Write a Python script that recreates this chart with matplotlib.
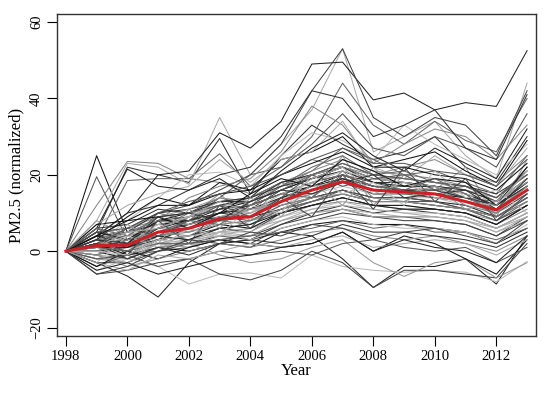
#!/usr/bin/env python3

import numpy as np
import matplotlib
matplotlib.use("Agg")
import matplotlib.pyplot as plt

years = list(range(1998, 2014))

# mean curve (red)
mean_pm = [0, 1.5, 1.6, 5, 6, 8.5, 9, 13, 16, 18.2, 16, 15.5, 15, 13, 10.8, 16]

# individual stations, normalized to 1998
top_lines = [
    [0, 25, 5, 8, 10, 12, 14, 18, 20, 22, 19, 18, 17, 15, 12, 18],
    [0, 19.5, 3, 6, 9, 11, 12, 15, 18, 20, 18, 16, 15, 14, 11, 17],
    [0, 12, 23.5, 23, 19, 18, 15, 20, 24, 22, 20, 22, 24, 20, 18, 25],
    [0, 5, 22, 20, 18, 29.5, 15, 25, 33, 28, 24, 26, 30, 22, 18, 30],
    [0, 8, 23, 22, 17.5, 35, 20, 28, 37, 53, 26, 30, 34, 25, 19, 44],
    [0, 3, 18.5, 19, 19, 25.5, 17, 22, 30, 44, 33, 28, 34, 29, 26, 40],
    [0, 4, 10, 20, 21, 31, 27, 34, 49, 49.5, 39.6, 41.4, 37, 38.9, 37.9, 52.5],
    [0, 2, 8, 14, 20, 20.7, 17, 25, 31, 29, 24, 33, 28, 24, 20, 28],
    [0, 1, 6, 10, 12, 16, 20, 28, 42, 53, 35, 30, 35, 33, 25, 42],
    [0, 2, 5, 3, 9, 15, 8, 18, 14, 25, 12, 20, 16, 22, 9, 24],
    [0, 3, 9, 14, 12, 18, 16, 24, 26, 30, 22, 24, 26, 21, 17, 29],
    [0, -1, 2, 6, 10, 14, 20, 22, 28, 36, 27, 25, 30, 27, 22, 36],
    [0, 2, 6, 8, 14, 17, 19, 26, 38, 33, 23, 28, 32, 30, 24, 33],
    [0, 4, 10, 12, 16, 20, 22, 30, 42, 40, 30, 33, 37, 27, 24, 41],
    [0, 7, 12, 15, 17, 24, 18, 24, 26, 34, 22, 19, 25, 20, 17, 27],
    [0, 0, 3, 5, 7, 10, 12, 17, 21, 27, 24, 20, 21, 18, 15, 25],
    [0, 6, 21.5, 17, 16, 19, 14, 21, 27, 31, 25, 21, 27, 23, 19, 32],
]

mid_lines = [
    [0, 2, 1, 4, 5, 7, 8, 12, 15, 17, 15, 14, 14, 12, 10, 14],
    [0, 4, 3, 8, 9, 12, 11, 16, 19, 22, 19, 18, 17, 16, 13, 19],
    [0, -1, -2, 2, 3, 5, 6, 9, 12, 14, 12, 12, 11, 10, 8, 12],
    [0, 3, 5, 7, 8, 10, 12, 15, 17, 20, 17, 16, 16, 14, 12, 17],
    [0, 1, 0, 3, 4, 6, 5, 10, 13, 15, 13, 13, 12, 11, 9, 13],
    [0, 5, 6, 9, 10, 13, 14, 18, 21, 24, 21, 20, 19, 17, 14, 21],
    [0, -2, -1, 1, 2, 4, 3, 7, 10, 12, 10, 11, 10, 9, 6, 10],
    [0, 2, 4, 6, 7, 9, 10, 14, 16, 19, 16, 15, 15, 13, 11, 15],
    [0, 6, 2, 10, 8, 14, 12, 17, 22, 25, 20, 21, 18, 17, 13, 22],
    [0, 0, 1, 3, 6, 8, 9, 11, 14, 16, 14, 14, 13, 12, 9, 14],
    [0, 3, 2, 7, 5, 11, 10, 15, 18, 21, 18, 17, 16, 15, 12, 18],
    [0, -3, -3, 0, 1, 3, 2, 6, 8, 10, 9, 8, 8, 7, 4, 9],
    [0, 1, 3, 5, 8, 9, 11, 13, 17, 19, 17, 16, 16, 14, 12, 17],
    [0, 7, 8, 12, 12, 15, 16, 20, 23, 26, 22, 22, 20, 19, 16, 23],
    [0, 2, 0, 4, 3, 6, 7, 11, 13, 16, 13, 13, 13, 11, 8, 12],
    [0, -1, 1, 2, 4, 5, 8, 10, 12, 13, 12, 11, 11, 10, 7, 11],
    [0, 4, 5, 10, 11, 13, 13, 18, 20, 23, 20, 19, 18, 17, 15, 20],
    [0, 1, -1, 2, 1, 4, 4, 8, 10, 11, 10, 9, 9, 8, 5, 8],
    [0, 3, 4, 6, 9, 11, 12, 15, 18, 20, 17, 17, 17, 14, 13, 18],
    [0, 5, 3, 8, 7, 10, 11, 14, 17, 19, 16, 16, 15, 14, 11, 16],
    [0, -2, 0, 3, 2, 5, 5, 9, 11, 13, 11, 10, 10, 9, 6, 10],
    [0, 2, 2, 5, 7, 9, 9, 13, 16, 18, 15, 15, 14, 13, 10, 15],
    [0, 8, 4, 9, 11, 14, 13, 17, 20, 22, 19, 19, 18, 16, 14, 20],
    [0, 0, -2, 1, 0, 2, 1, 5, 7, 8, 7, 7, 6, 5, 2, 6],
    [0, 3, 1, 5, 6, 9, 8, 12, 14, 16, 14, 14, 13, 11, 9, 14],
    [0, 1, 2, 6, 5, 8, 10, 13, 15, 18, 16, 15, 15, 13, 10, 16],
    [0, 6, 7, 11, 10, 13, 14, 17, 19, 22, 18, 18, 17, 16, 13, 19],
    [0, -1, -3, 1, 3, 4, 6, 8, 11, 12, 11, 10, 9, 8, 6, 9],
    [0, 2, 3, 4, 6, 8, 7, 11, 13, 15, 13, 13, 12, 11, 8, 13],
    [0, 4, 2, 8, 8, 11, 13, 16, 19, 21, 18, 17, 17, 15, 12, 18],
    [0, 1, 4, 7, 9, 12, 10, 15, 18, 21, 19, 18, 17, 15, 13, 19],
    [0, -4, -1, 0, 2, 3, 4, 7, 9, 11, 9, 9, 8, 7, 4, 8],
    [0, 3, 5, 8, 7, 9, 11, 13, 17, 18, 16, 15, 16, 14, 11, 17],
    [0, 2, -1, 3, 4, 7, 6, 10, 12, 14, 12, 12, 11, 10, 7, 12],
    [0, 5, 6, 10, 13, 15, 17, 20, 24, 27, 23, 23, 21, 20, 17, 24],
    [0, 0, 2, 4, 5, 7, 8, 11, 14, 15, 13, 13, 12, 11, 9, 13],
    [0, 3, 1, 6, 8, 10, 9, 14, 16, 19, 17, 16, 16, 14, 12, 17],
    [0, -2, -2, 2, 1, 5, 4, 8, 10, 11, 9, 9, 9, 8, 5, 9],
    [0, 6, 4, 9, 10, 12, 13, 16, 20, 23, 20, 19, 18, 17, 14, 21],
    [0, 1, 1, 4, 3, 6, 7, 10, 12, 14, 12, 11, 11, 10, 7, 12],
    [0, -3, 4, 1, 6, 4, 12, 10, 20, 15, 18, 12, 21, 14, 16, 10],
    [0, 5, -1, 8, 2, 12, 6, 14, 9, 20, 11, 22, 13, 19, 8, 15],
    [0, 1, 7, 2, 11, 6, 14, 9, 18, 12, 22, 15, 17, 11, 13, 18],
    [0, 4, 8, 9, 6, 10, 15, 19, 17, 24, 21, 17, 19, 18, 12, 22],
    [0, 2, 6, 4, 8, 12, 9, 14, 20, 17, 19, 20, 16, 17, 14, 20],
    [0, -1, 3, 5, 4, 8, 11, 12, 14, 21, 14, 13, 17, 12, 10, 17],
    [0, 3, 2, 9, 10, 8, 13, 16, 15, 18, 20, 14, 15, 16, 11, 19],
    [0, 1, 5, 6, 9, 13, 10, 13, 19, 22, 15, 18, 14, 13, 12, 21],
    [0, 2, 0, 5, 8, 7, 12, 15, 14, 20, 17, 16, 19, 15, 9, 14],
]

low_lines = [
    [0, -3, -6.5, -12, -3, 2, 3, 5, 4, -2, -9.5, -4, -4, -2, -8.6, 4],
    [0, -5, -2, -4, -8.6, -6, -5.7, -7, -1, -4, -5, -5.5, -5, -5.5, -8, -2.7],
    [0, -6, -5, -3, -2, -6, -7.5, -5, 0, -3, -9.5, -5, -5, -6, -7, 2],
    [0, -2, -3, 1, 2, -1, -3, -2, 1, 3, -3, -6.6, -3, -2, -7, -3],
    [0, -4, 0, -2, 1, 3, 2, 1, 2, 5, 0, 4, 2, -2, -6, 3],
    [0, -2, -1, -4, -2, 0, -1, 0, -1, 2, 3, 1, 0, 1, -3, 1],
    [0, -1, -4, -2, 0, 2, 1, 3, 5, 6, 4, 3, 4, 2, 0, 4],
    [0, 2, -2, 1, -1, 2, 3, 2, 4, 7, 5, 5, 4, 3, 1, 5],
    [0, -3, -5, -1, -2, 0, 2, 1, 3, 4, 1, 2, 3, 2, -1, 3],
    [0, 1, 0, 2, 2, 3, 4, 5, 6, 8, 6, 7, 5, 5, 3, 6],
    [0, -5, -3, -6, -4, -2, -1, 1, 2, 5, 0, 3, 1, 0, -3, 4],
    [0, 0, -1, 3, 4, 5, 3, 6, 8, 9, 7, 6, 6, 5, 2, 7],
    [0, -6, -4, 0, 3, 2, 5, 4, 7, 6, 3, 5, 6, 4, 2, 8],
]

greys = ["#111111", "#555555", "#888888", "#333333", "#aaaaaa",
         "#666666", "#222222", "#bbbbbb", "#444444", "#999999"]

plt.rcParams["font.family"] = ["Liberation Serif", "DejaVu Serif"]

fig = plt.figure(figsize=(5.5, 3.93), dpi=100)
ax = fig.add_axes([0.1036, 0.145, 0.8709, 0.8194])

all_lines = top_lines + mid_lines + low_lines
for i, vals in enumerate(all_lines):
    ax.plot(years, vals, color=greys[i % len(greys)], lw=0.75)

ax.plot(years, mean_pm, color="#cc2027", lw=2.2)

ax.set_xlim(1997.71, 2013.29)
ax.set_ylim(-22.2, 62.1)
ax.set_xticks(range(1998, 2013, 2))
ax.set_yticks([-20, 0, 20, 40, 60])
for lbl in ax.get_yticklabels():
    lbl.set_rotation(90)
    lbl.set_va("center")
ax.tick_params(length=7, width=0.8, labelsize=10.5, pad=3)
for s in ax.spines.values():
    s.set_linewidth(1.0)
    s.set_color("#333333")

ax.set_xlabel("Year", fontsize=12, labelpad=0)
ax.set_ylabel("PM2.5 (normalized)", fontsize=12, labelpad=4)

fig.savefig("out.png", dpi=100)
